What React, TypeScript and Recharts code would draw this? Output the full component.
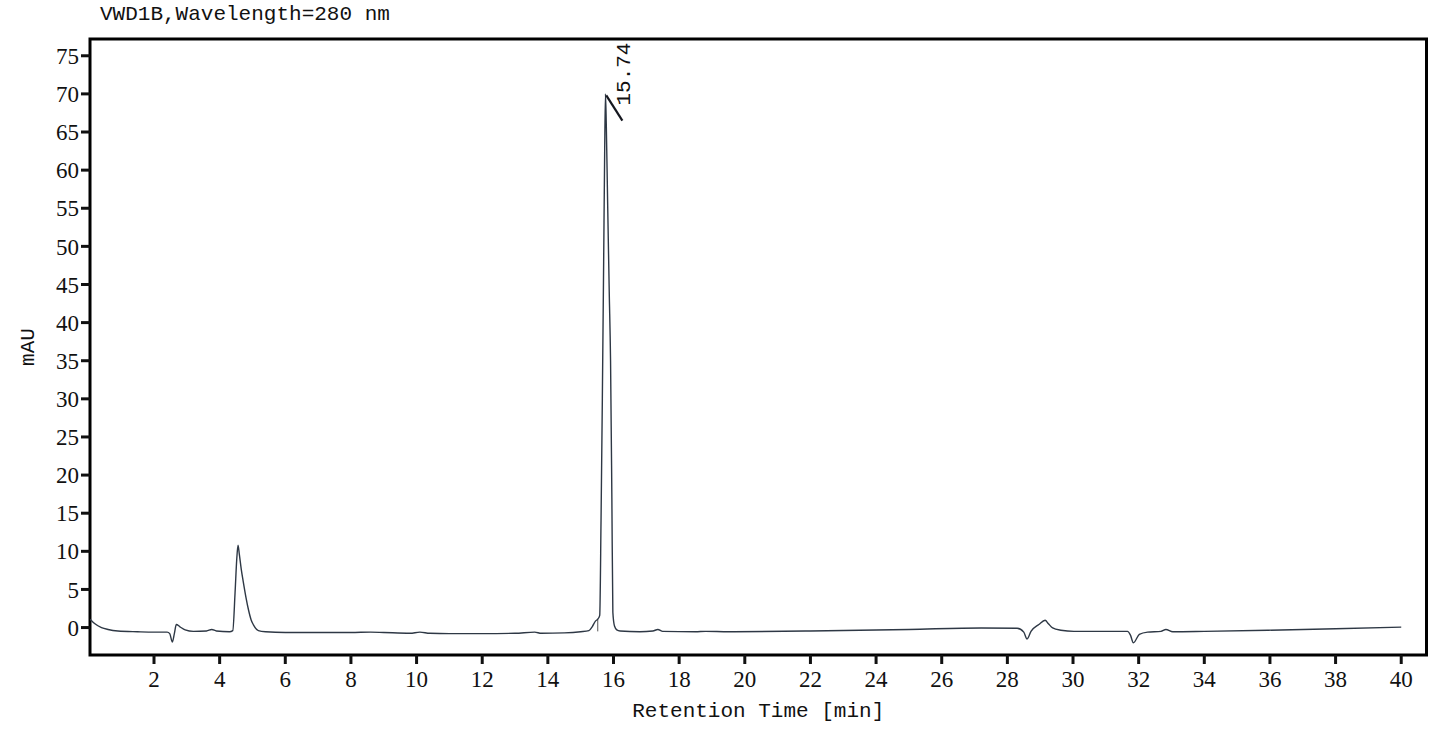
import React from 'react';
import { LineChart, Line, XAxis, YAxis, ReferenceArea, ReferenceLine, ReferenceDot, Label } from 'recharts';

// chromatogram trace
const retentionTime = [
  0.05, 0.2, 0.4, 0.6, 0.9, 1.5, 2.0, 2.4, 2.48, 2.56, 2.62, 2.68, 2.79, 2.95, 3.2, 3.6, 3.76, 3.9,
  4.3, 4.4, 4.47, 4.52, 4.56, 4.6, 4.66, 4.72, 4.8, 4.88, 4.96, 5.03, 5.18, 5.4, 6.0, 7.0, 8.0, 8.6,
  9.0, 9.8, 10.1, 10.4, 11.0, 12.0, 13.0, 13.6, 13.8, 14.5, 15.0, 15.25, 15.35, 15.45, 15.52, 15.58,
  15.62, 15.66, 15.7, 15.73, 15.755, 15.78, 15.82, 15.87, 15.91, 15.95, 15.98, 16.03, 16.1, 16.2,
  16.8, 17.2, 17.35, 17.5, 18.5, 18.8, 19.5, 22.0, 25.0, 27.2, 28.3, 28.5, 28.6, 28.72, 28.96, 29.15,
  29.25, 29.38, 29.63, 30.03, 31.66, 31.75, 31.84, 32.02, 32.27, 32.68, 32.83, 33.04, 34.0, 35.94,
  38.0, 40.0,
];
const absorbance = [
  1.1, 0.5, 0.0, -0.25, -0.45, -0.55, -0.6, -0.6, -0.8, -1.9, -0.8, 0.4, 0.1, -0.3, -0.5, -0.45, -0.25, -0.45,
  -0.55, -0.4, 4.6, 8.9, 10.8, 9.6, 7.6, 6.0, 4.0, 2.3, 1.0, 0.35, -0.4, -0.55, -0.65, -0.65, -0.65, -0.6,
  -0.65, -0.75, -0.6, -0.75, -0.8, -0.8, -0.75, -0.6, -0.75, -0.7, -0.55, -0.4, 0.1, 0.85, 1.1, 1.6,
  14, 30, 48, 62, 70, 66, 56, 44, 35, 17, 2, 0.2, -0.3, -0.45,
  -0.55, -0.45, -0.25, -0.5, -0.55, -0.5, -0.55, -0.45, -0.25, -0.05, -0.1, -0.6, -1.5, -0.5, 0.4, 0.95,
  0.5, -0.05, -0.35, -0.5, -0.5, -1.0, -2.0, -0.9, -0.6, -0.5, -0.25, -0.55, -0.5, -0.35,
  -0.15, 0.05,
];

const xTicks = [2, 4, 6, 8, 10, 12, 14, 16, 18, 20, 22, 24, 26, 28, 30, 32, 34, 36, 38, 40];
const yTicks = [0, 5, 10, 15, 20, 25, 30, 35, 40, 45, 50, 55, 60, 65, 70, 75];
const xDomain = [0.05, 40.77];
const yDomain = [-3.6, 77.2];

const peakLabel = '15.74';
const peakMarker = [{ x: 15.78, y: 69.8 }, { x: 16.27, y: 66.5 }];
const peakLabelPos = { x: 16.32, y: 72.6 };
// integration drop line at the shoulder
const shoulderDrop = [{ x: 15.52, y: 1.1 }, { x: 15.52, y: -0.5 }];

const data = retentionTime.map((t, i) => ({ t, v: absorbance[i] }));

const MONO = '"Liberation Mono", monospace';
const SERIF = '"Liberation Serif", serif';
const INK = '#111';

export default function App() {
  return (
    <div style={{ position: 'absolute', left: 0, top: 0, width: 1445, height: 729, background: '#fff' }}>
      <div style={{ position: 'absolute', left: 100, top: 3, fontFamily: MONO, fontSize: 21, color: INK }}>
        VWD1B,Wavelength=280 nm
      </div>
      <LineChart width={1445} height={729} data={data} margin={{ top: 39, right: 18.5, left: 0, bottom: 0 }}>
        <XAxis
          dataKey="t" type="number" domain={xDomain} ticks={xTicks} allowDataOverflow
          height={74} tickSize={9} tickMargin={7}
          axisLine={false} tickLine={{ stroke: INK, strokeWidth: 3 }}
          tick={{ fill: INK, fontFamily: SERIF, fontSize: 23 }}
        >
          <Label value="Retention Time [min]" position="insideBottom" offset={12}
            style={{ fontFamily: MONO, fontSize: 21, fill: INK }} />
        </XAxis>
        <YAxis
          type="number" domain={yDomain} ticks={yTicks} allowDataOverflow
          width={90} tickSize={9} tickMargin={2}
          axisLine={false} tickLine={{ stroke: INK, strokeWidth: 3 }}
          tick={{ fill: INK, fontFamily: SERIF, fontSize: 23 }}
        >
          <Label
            content={({ viewBox }: any) => {
              const cx = 28;
              const cy = viewBox.y + viewBox.height / 2;
              return (
                <text x={cx} y={cy} transform={`rotate(-90 ${cx} ${cy})`} textAnchor="middle"
                  dominantBaseline="central" style={{ fontFamily: MONO, fontSize: 21, fill: INK }}>
                  mAU
                </text>
              );
            }}
          />
        </YAxis>
        <ReferenceArea x1={xDomain[0]} x2={xDomain[1]} y1={yDomain[0]} y2={yDomain[1]}
          fill="none" stroke="#000" strokeWidth={3} ifOverflow="visible" />
        <ReferenceLine segment={shoulderDrop} stroke="#555" strokeWidth={1} />
        <Line type="monotone" dataKey="v" stroke="#2e3845" strokeWidth={1.4} dot={false} isAnimationActive={false} />
        <ReferenceLine segment={peakMarker} stroke="#15171f" strokeWidth={2.2} ifOverflow="visible" />
        <ReferenceDot
          x={peakLabelPos.x} y={peakLabelPos.y} r={0} ifOverflow="visible"
          shape={(p: any) => (
            <text x={p.cx} y={p.cy} transform={`rotate(-90 ${p.cx} ${p.cy})`} textAnchor="middle"
              dominantBaseline="central" style={{ fontFamily: MONO, fontSize: 21, fill: INK }}>
              {peakLabel}
            </text>
          )}
        />
      </LineChart>
    </div>
  );
}
